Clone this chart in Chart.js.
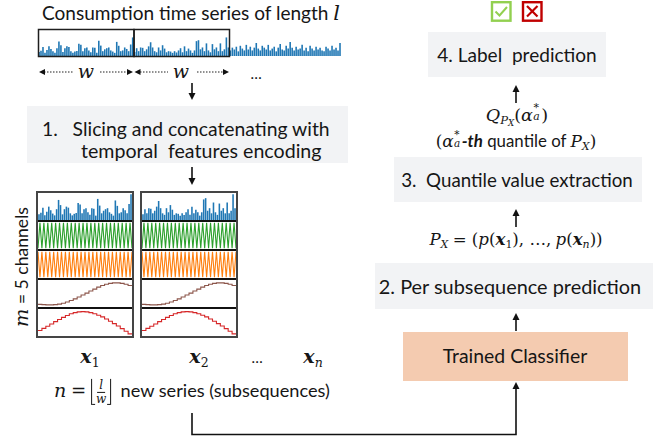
<!DOCTYPE html>
<html><head><meta charset="utf-8">
<script src="https://cdn.jsdelivr.net/npm/chart.js@4"></script>
<style>
body{margin:0;background:#fff;}
#wrap{position:relative;width:670px;height:438px;overflow:hidden;font-family:Lato,"Open Sans",sans-serif;color:#161616;}
.t{position:absolute;white-space:nowrap;line-height:1;transform:translate(-50%,-50%);}
.l{position:absolute;white-space:nowrap;line-height:1;transform:translateY(-50%);}
.box{position:absolute;background:#f2f3f5;}
.m{font-family:"DejaVu Serif","Liberation Serif",serif;font-style:italic;}
.u{font-family:"DejaVu Serif","Liberation Serif",serif;font-style:normal;}
.bx{font-family:"DejaVu Serif","Liberation Serif",serif;font-style:italic;font-weight:bold;}
.sb{font-size:0.66em;position:relative;top:0.28em;line-height:0.8;}
.ss{display:inline-block;position:relative;width:0.48em;height:0.9em;vertical-align:baseline;}
.ss .p{position:absolute;left:0.06em;top:-0.12em;font-size:0.62em;line-height:0.7;}
.ss .q{position:absolute;left:0.04em;top:0.72em;font-size:0.62em;line-height:0.7;}
.grid{position:absolute;width:94px;border:2px solid #454545;background:#fff;}
.cell{height:27px;border-bottom:2px solid #111;}
.cell:last-child{border-bottom:none;}
canvas{display:block;}
.frac{display:inline-flex;flex-direction:column;align-items:center;vertical-align:middle;font-size:0.66em;line-height:1.05;margin:0 3px;}
.frac span:first-child{border-bottom:1px solid #161616;padding:0 2px;}
.floor{display:inline-block;position:relative;border-left:1.3px solid #161616;border-right:1.3px solid #161616;padding:0 1px;vertical-align:middle;line-height:1;}
.floor::before,.floor::after{content:"";position:absolute;bottom:0;width:3px;border-bottom:1.3px solid #161616;}
.floor::before{left:0;}
.floor::after{right:0;}
</style>
</head><body>
<div id="wrap">
  <!-- top series -->
  <div class="t" data-w="298" style="left:191px;top:13px;font-size:17px;">Consumption time series of length <span class="m" style="font-size:1.1em">l</span></div>
  <canvas id="strip" width="303" height="26" style="position:absolute;left:38px;top:30px;"></canvas>

  <div class="t m" style="left:86px;top:71px;font-size:19px;">w</div>
  <div class="t m" style="left:181px;top:71px;font-size:19px;">w</div>
  <div class="t" style="left:256px;top:73px;font-size:15px;">…</div>

  <!-- box 1 -->
  <div class="box" style="left:27px;top:106px;width:321px;height:57px;"></div>
  <div class="l" data-w="288" style="left:42px;top:129px;font-size:18px;">1.&nbsp;&nbsp;&nbsp;Slicing and concatenating with</div>
  <div class="l" data-w="241" style="left:81px;top:151px;font-size:18px;">temporal&nbsp; features encoding</div>

  <!-- channel grids -->
  <div class="grid" style="left:36px;top:191px;">
    <div class="cell"><canvas id="a1" width="94" height="27"></canvas></div>
    <div class="cell"><canvas id="a2" width="94" height="27"></canvas></div>
    <div class="cell"><canvas id="a3" width="94" height="27"></canvas></div>
    <div class="cell"><canvas id="a4" width="94" height="27"></canvas></div>
    <div class="cell"><canvas id="a5" width="94" height="27"></canvas></div>
  </div>
  <div class="grid" style="left:140px;top:191px;">
    <div class="cell"><canvas id="b1" width="94" height="27"></canvas></div>
    <div class="cell"><canvas id="b2" width="94" height="27"></canvas></div>
    <div class="cell"><canvas id="b3" width="94" height="27"></canvas></div>
    <div class="cell"><canvas id="b4" width="94" height="27"></canvas></div>
    <div class="cell"><canvas id="b5" width="94" height="27"></canvas></div>
  </div>
  <div class="t" data-w="120" style="left:22px;top:267px;font-size:17px;transform:translate(-50%,-50%) rotate(-90deg);"><span class="m" style="font-size:1.1em">m</span> = 5 channels</div>

  <div class="t" style="left:90px;top:356px;font-size:19px;"><span class="bx">x</span><span class="u sb">1</span></div>
  <div class="t" style="left:199px;top:356px;font-size:19px;"><span class="bx">x</span><span class="u sb">2</span></div>
  <div class="t" style="left:257px;top:357px;font-size:15px;">…</div>
  <div class="t" style="left:313px;top:356px;font-size:19px;"><span class="bx">x</span><span class="m sb">n</span></div>

  <div class="t" data-w="277" style="left:192px;top:392px;font-size:17px;"><span class="m" style="font-size:1.05em">n</span> <span class="u">=</span> <span class="floor"><span class="frac"><span class="m">l</span><span class="m">w</span></span></span>&nbsp; new series (subsequences)</div>

  <!-- right column -->
  <div class="box" style="left:428px;top:32px;width:178px;height:45px;"></div>
  <div class="t" data-w="160" style="left:517px;top:55px;font-size:18px;">4. Label&nbsp; prediction</div>

  <div class="t" data-w="62" style="left:517px;top:115px;font-size:17px;"><span class="m">Q</span><span class="sb"><span class="m">P</span><span class="m sb" style="font-size:0.75em">X</span></span><span class="u">(</span><span class="m">α</span><span class="ss"><span class="u p">*</span><span class="m q">a</span></span><span class="u">)</span></div>
  <div class="t" data-w="161" style="left:516px;top:141px;font-size:16px;"><span class="u">(</span><span class="m">α</span><span class="ss"><span class="u p">*</span><span class="m q">a</span></span><b><i>-th</i></b> quantile of <span class="m">P</span><span class="m sb">X</span><span class="u">)</span></div>

  <div class="box" style="left:394px;top:157px;width:248px;height:45px;"></div>
  <div class="t" data-w="232" style="left:517px;top:180px;font-size:18px;">3.&nbsp; Quantile value extraction</div>

  <div class="t" data-w="173" style="left:516px;top:240px;font-size:17px;"><span class="m">P</span><span class="m sb">X</span> <span class="u">= (</span><span class="m">p</span><span class="u">(</span><span class="bx">x</span><span class="u sb">1</span><span class="u">), …,</span> <span class="m">p</span><span class="u">(</span><span class="bx">x</span><span class="m sb">n</span><span class="u">))</span></div>

  <div class="box" style="left:375px;top:263px;width:278px;height:46px;"></div>
  <div class="t" data-w="262" style="left:510px;top:287px;font-size:18px;">2. Per subsequence prediction</div>

  <div class="box" style="left:403px;top:332px;width:225px;height:49px;background:#f4cbb0;"></div>
  <div class="t" data-w="145" style="left:515px;top:356px;font-size:17px;">Trained Classifier</div>

  <svg width="670" height="438" style="position:absolute;left:0;top:0;pointer-events:none;">
    <g fill="none" stroke="#1e1e1e" stroke-width="1.5">
      <rect x="38.5" y="29.5" width="95.5" height="27"/>
      <rect x="134" y="29.5" width="95.5" height="27"/>
    </g>
    <g stroke="#222" stroke-width="1.2" stroke-dasharray="1.5 1.5">
      <line x1="44" y1="72" x2="73" y2="72"/>
      <line x1="100" y1="72" x2="127" y2="72"/>
      <line x1="140" y1="72" x2="168" y2="72"/>
      <line x1="197" y1="72" x2="223" y2="72"/>
    </g>
    <g fill="#111">
      <polygon points="39,72 45,69 45,75"/>
      <polygon points="133,72 127,69 127,75"/>
      <polygon points="134.5,72 140.5,69 140.5,75"/>
      <polygon points="229,72 223,69 223,75"/>
    </g>
    <g stroke="#111" stroke-width="1.6" fill="none">
      <line x1="192" y1="83" x2="192" y2="94"/>
      <line x1="192" y1="167" x2="192" y2="180"/>
      <line x1="516" y1="103" x2="516" y2="90"/>
      <line x1="516" y1="227" x2="516" y2="214"/>
      <line x1="516" y1="331" x2="516" y2="318"/>
      <polyline points="192,413 192,434.5 516,434.5 516,387"/>
    </g>
    <g fill="#111">
      <polygon points="192,100 188.5,93 195.5,93"/>
      <polygon points="192,185 188.5,178 195.5,178"/>
      <polygon points="516,85 512.5,92 519.5,92"/>
      <polygon points="516,209 512.5,216 519.5,216"/>
      <polygon points="516,313 512.5,320 519.5,320"/>
      <polygon points="516,382 512.5,389 519.5,389"/>
    </g>
    <rect x="492" y="2.2" width="18.5" height="18.5" fill="none" stroke="#92d050" stroke-width="2.4"/>
    <polyline points="495.5,11.5 499.5,15.5 507,7" fill="none" stroke="#92d050" stroke-width="2"/>
    <rect x="523" y="2.2" width="18.5" height="18.5" fill="none" stroke="#c00000" stroke-width="2.4"/>
    <g stroke="#c00000" stroke-width="2.2">
      <line x1="527" y1="6" x2="537.5" y2="16.5"/>
      <line x1="537.5" y1="6" x2="527" y2="16.5"/>
    </g>
  </svg>
</div>

<script>
// ---- data ----
// consumption series, window 1, window 2 and the remainder (normalised values)
const WINDOW1 = [0.22,0.28,0.48,0.18,0.32,0.52,0.38,0.25,0.18,0.42,0.78,0.58,0.22,0.42,0.52,0.48,0.26,0.18,0.24,0.27,0.66,0.6,0.26,0.42,0.46,0.3,0.2,0.46,0.44,0.17,0.82,0.56,0.26,0.36,0.42,0.46,0.3,0.24,0.17,0.76,0.55,0.26,0.3,0.46,0.38,0.26,0.62,1.0];
const WINDOW2 = [0.22,0.42,0.26,0.46,0.44,0.26,0.36,0.52,0.74,0.46,0.26,0.2,0.46,0.3,0.58,0.4,0.2,0.26,0.24,0.17,0.26,0.19,0.3,0.42,0.2,0.52,0.26,0.4,0.3,0.17,0.3,0.8,0.85,0.36,0.46,0.26,0.68,0.3,0.2,0.64,0.36,0.46,0.26,0.68,0.26,0.36,1.0,0.46];
const REST = [0.3,0.45,0.35,0.5,0.25,0.55,0.4,0.3,0.6,0.35,0.5,0.3,0.45,0.7,0.4,0.3,0.55,0.45,0.35,0.6,0.3,0.4,0.5,0.25,0.45,0.65,0.35,0.3,0.55,0.4,0.75,0.45,0.3,0.5,0.35,0.4,0.6,0.3,0.45,0.25,0.55,0.4,0.3,0.5,0.35,0.45,0.3,0.25,0.5,0.4,0.3,0.55,0.35,0.45,0.3,0.7];
// temporal feature channels
const FAST_GREEN = [0,1,0,1,0,1,0,1,0,1,0,1,0,1,0,1,0,1,0,1,0,1,0,1,0,1,0,1,0,1,0,1,0,1,0,1,0,1,0,1,0,1,0,1,0,1,0,1,0];
const FAST_ORANGE = [1,0,1,0,1,0,1,0,1,0,1,0,1,0,1,0,1,0,1,0,1,0,1,0,1,0,1,0,1,0,1,0,1,0,1,0,1,0,1,0,1,0,1,0,1,0,1,0,1];
const BROWN_STEPS = [0.06,0.05,0.04,0.04,0.05,0.07,0.11,0.16,0.22,0.29,0.37,0.45,0.53,0.62,0.70,0.78,0.85,0.90,0.94,0.96,0.96,0.94,0.90,0.85,0.85];
const RED_STEPS = [0.18,0.27,0.36,0.45,0.55,0.64,0.73,0.81,0.88,0.93,0.96,0.97,0.96,0.93,0.88,0.82,0.75,0.66,0.57,0.47,0.37,0.26,0.15,0.04,0.04];
const COLORS = ['#1f77b4','#2ca02c','#ff7f0e','#8c564b','#d62728'];

// ---- fit text widths ----
document.querySelectorAll('[data-w]').forEach(el => {
  const w = el.offsetWidth;
  const fs = parseFloat(getComputedStyle(el).fontSize);
  el.style.fontSize = (fs * parseFloat(el.dataset.w) / w).toFixed(2) + 'px';
});

function mk(id, kind, values, color, ymin, ymax, stepped) {
  const isBar = kind === 'bar';
  new Chart(document.getElementById(id), {
    type: kind,
    data: { labels: values.map((_, i) => i), datasets: [{
      data: values, backgroundColor: color, borderColor: color,
      borderWidth: isBar ? 0 : 1.1, barPercentage: isBar ? 0.8 : 1, categoryPercentage: 1,
      pointRadius: 0, stepped: stepped || false, fill: false, tension: 0 }] },
    options: { responsive: false, animation: false, devicePixelRatio: 1, events: [],
      layout: { padding: 0 },
      plugins: { legend: { display: false }, tooltip: { enabled: false } },
      scales: { x: { display: false, offset: isBar }, y: { display: false, min: ymin, max: ymax } } }
  });
}

mk('strip', 'bar', WINDOW1.concat(WINDOW2, REST), COLORS[0], 0, 1.4);
[['a', WINDOW1], ['b', WINDOW2]].forEach(([p, win]) => {
  mk(p + '1', 'bar', win, COLORS[0], 0, 1.05);
  mk(p + '2', 'line', FAST_GREEN, COLORS[1], -0.03, 1.03);
  mk(p + '3', 'line', FAST_ORANGE, COLORS[2], -0.03, 1.03);
  mk(p + '4', 'line', BROWN_STEPS, COLORS[3], -0.05, 1.08, true);
  mk(p + '5', 'line', RED_STEPS, COLORS[4], -0.05, 1.08, true);
});
</script>
</body></html>
